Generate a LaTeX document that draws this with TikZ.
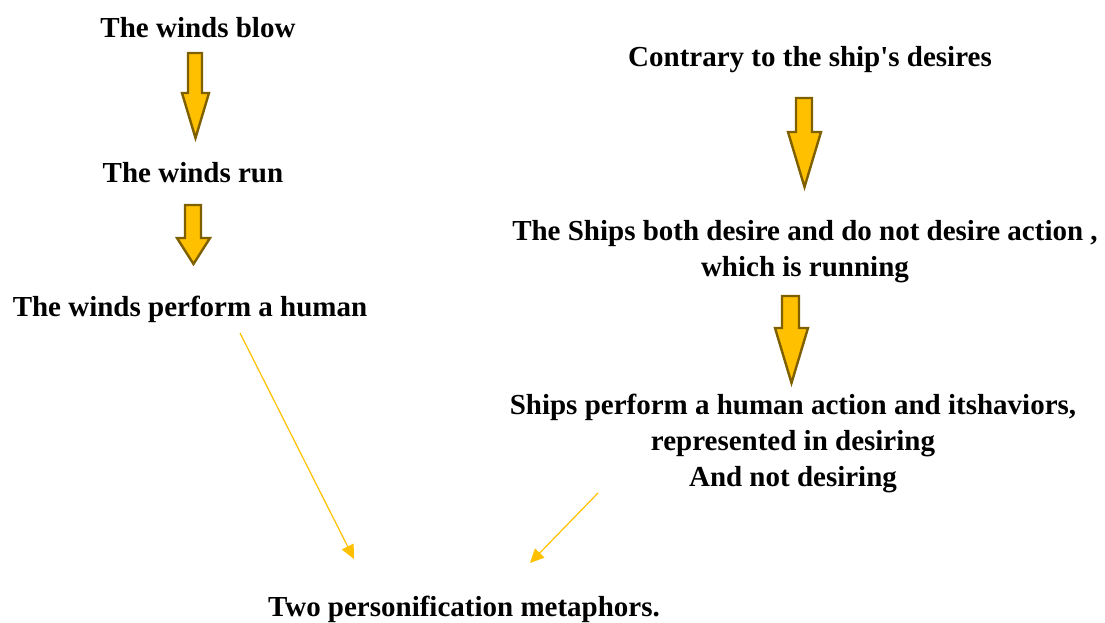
\documentclass[tikz,border=0pt]{standalone}
\usepackage{fontspec}
\setmainfont{Liberation Serif}
\usetikzlibrary{arrows.meta}
\definecolor{gold}{HTML}{FFC000}
\definecolor{olive}{HTML}{7F6000}
\tikzset{
  lbl/.style={font=\fontsize{29}{36}\selectfont\bfseries, inner sep=0pt, align=center, anchor=base},
  blk/.style={fill=gold, draw=olive, line width=2.4pt, line join=miter},
  thin/.style={draw=gold, line width=1.2pt, -{Triangle[length=14pt,width=13pt]}}
}
% args: shaft left, shaft right, top, neck, head left, head right, tip
\newcommand\mkblockarrow[7]{%
  \pgfmathsetmacro\tipx{(#5+#6)/2}%
  \draw[blk] (#1,#3) -- (#2,#3) -- (#2,#4) -- (#6,#4) -- (\tipx,#7) -- (#5,#4) -- (#1,#4) -- cycle;}
\begin{document}
\begin{tikzpicture}[x=1pt,y=-1pt]
\useasboundingbox (0,0) rectangle (1105,622);
\node[lbl] (blow) at (198,37) {The winds blow};
\node[lbl] (run) at (193,182) {The winds run};
\node[lbl] (human) at (190,316) {The winds perform a human};
\node[lbl] (contrary) at (810,66) {Contrary to the ship\textquotesingle s desires};
\node[lbl] (both) at (805,276) {The Ships both desire and do not desire action ,\\which is running};
\node[lbl] (ships) at (793,486) {Ships perform a human action and itshaviors,\\represented in desiring\\And not desiring};
\node[lbl] (two) at (464,616) {Two personification metaphors.};
\mkblockarrow{188}{202}{53}{93}{182}{209}{138}
\mkblockarrow{185}{201}{205}{238}{177}{210}{264}
\mkblockarrow{796}{812}{98}{132}{788}{821}{187}
\mkblockarrow{782}{799}{296}{328}{775}{808}{383}
\coordinate (s1) at (240,333);
\coordinate (e1) at (354,559);
\coordinate (s2) at (598,493);
\coordinate (e2) at (530,563);
\draw[thin] (s1) -- (e1);
\draw[thin] (s2) -- (e2);
\end{tikzpicture}
\end{document}
